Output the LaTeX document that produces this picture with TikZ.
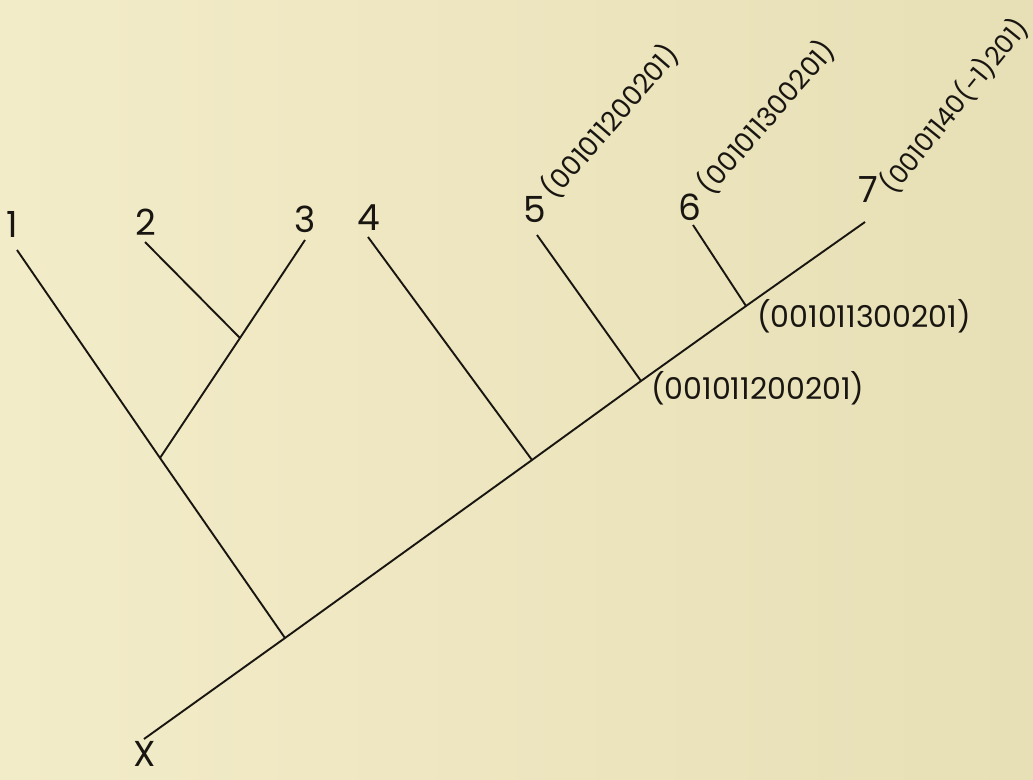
\documentclass[tikz,border=0pt]{standalone}
\usepackage{fontspec}
\setmainfont{Poppins}
\definecolor{paperL}{RGB}{243,236,201}
\definecolor{paperR}{RGB}{231,223,181}
\definecolor{ink}{RGB}{25,22,18}
\begin{document}
\begin{tikzpicture}[x=1pt,y=-1pt,
  branch/.style={draw=ink,line width=1.9pt},
  leaf/.style={text=ink,font=\fontsize{36}{36}\selectfont,inner sep=0pt},
  code/.style={text=ink,font=\fontsize{30}{30}\selectfont,inner sep=0pt},
  rcode/.style={text=ink,font=\fontsize{27}{27}\selectfont,inner sep=0pt,anchor=west,rotate=49}]
\shade[left color=paperL,right color=paperR] (0,0) rectangle (1033,779);
\useasboundingbox (0,0) rectangle (1033,779);
% junctions and ends
\coordinate (root) at (144,739);
\coordinate (top) at (865,222);
\coordinate (ja) at (285,638);
\coordinate (jb) at (160,458);
\coordinate (jc) at (240,338);
\coordinate (j4) at (532,460);
\coordinate (j5) at (641,381);
\coordinate (j6) at (746,306);
\coordinate (e1) at (17,250);
\coordinate (e2) at (145,242);
\coordinate (e3) at (305,240);
\coordinate (e4) at (368,237);
\coordinate (e5) at (537,235);
\coordinate (e6) at (693,225);
% labels
\node[leaf] (X) at (145,754) {X};
\node[leaf] (l1) at (12,224) {1};
\node[leaf] (l2) at (146,222) {2};
\node[leaf] (l3) at (305,219) {3};
\node[leaf] (l4) at (369,218) {4};
\node[leaf] (l5) at (535,210) {5};
\node[leaf] (l6) at (690,207) {6};
\node[leaf] (l7) at (868,190) {7};
\node[rcode] (c5) at (547,194) {(001011200201)};
\node[rcode] (c6) at (703,190) {(001011300201)};
\node[rcode,rotate=2,font=\fontsize{26}{26}\selectfont] (c7) at (886,190) {(00101140(-1)201)};
\node[code,anchor=west] (n6) at (757,316) {(001011300201)};
\node[code,anchor=west] (n5) at (651,388) {(001011200201)};
% branches
\draw[branch] (root) -- (ja) -- (j4) -- (j5) -- (j6) -- (top);
\draw[branch] (ja) -- (jb) -- (e1);
\draw[branch] (jb) -- (jc) -- (e3);
\draw[branch] (jc) -- (e2);
\draw[branch] (j4) -- (e4);
\draw[branch] (j5) -- (e5);
\draw[branch] (j6) -- (e6);
\end{tikzpicture}
\end{document}
